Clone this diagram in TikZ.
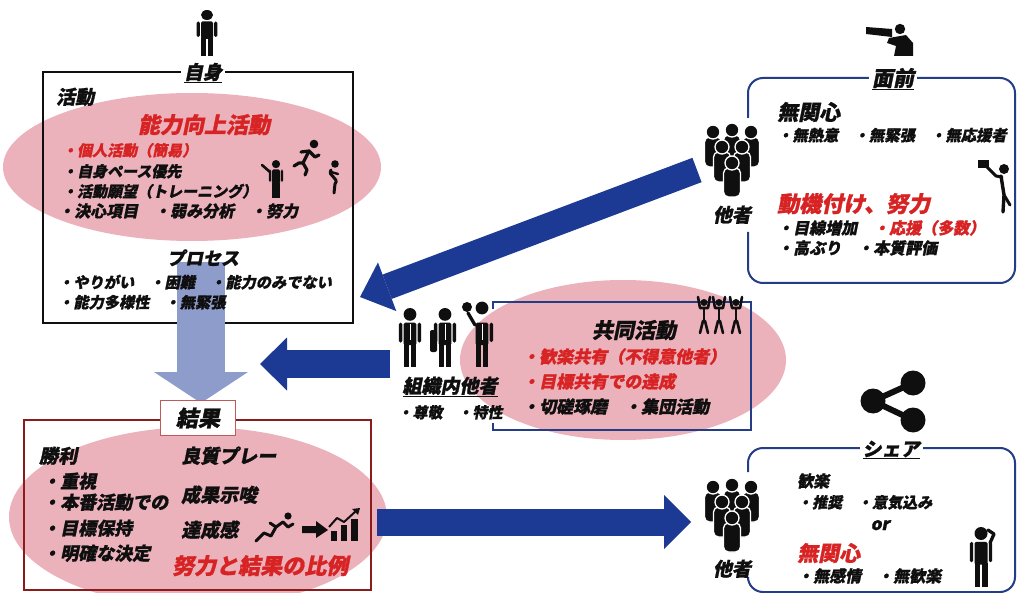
\documentclass[tikz,border=0pt]{standalone}
\usepackage{fontspec}
\newfontfamily\jp[FakeSlant=0.2, BoldFeatures={FakeBold=1.2}]{Noto Sans CJK JP}
\usetikzlibrary{arrows.meta}
\newcommand{\fsz}[1]{\fontsize{#1}{#1}\selectfont}
\definecolor{pinkfill}{RGB}{236,178,188}
\definecolor{redtxt}{RGB}{215,35,35}
\definecolor{navy}{RGB}{28,58,148}
\definecolor{boxnavy}{RGB}{35,62,135}
\definecolor{lightarrow}{RGB}{142,156,204}
\definecolor{boxred}{RGB}{140,28,28}
\definecolor{titlered}{RGB}{190,90,90}
\definecolor{ink}{RGB}{15,15,15}
\tikzset{
  txt/.style={anchor=base west, inner sep=0pt, text=ink, font=\jp\bfseries\fsz{#1}},
  txt/.default=15,
  ctxt/.style={anchor=base, inner sep=0pt, text=ink, font=\jp\bfseries\fsz{#1}},
  ctxt/.default=15,
  red/.style={text=redtxt},
  boxtitle/.style={fill=white, inner sep=3pt, text=ink, font=\jp\bfseries\fsz{#1}},
  boxtitle/.default=18,
  blockarrow/.style={draw=navy, line width=#1},
  stick/.style={draw=ink, line width=3.2pt, line cap=round, line join=round},
  % standing figure, origin at the top of the head
  person/.pic={
    \fill[ink] (0,5) circle (5);
    \fill[ink, rounded corners=1.5] (-5,11.5) rectangle (5,29);
    \fill[ink, rounded corners=1.5] (-8.6,11.5) rectangle (-6,27);
    \fill[ink, rounded corners=1.5] (6,11.5) rectangle (8.6,27);
    \fill[ink] (-5,28) rectangle (-0.6,46);
    \fill[ink] (0.6,28) rectangle (5,46);
  },
  % group of seven figures, origin at the top centre
  crowd/.pic={
    \foreach \hx/\hy/\bb in {-19/7/42, 19/7/42, 0/5/40, -10/22/57, 10/22/57, 0/38/72}{
      \fill[ink, draw=white, line width=1.3pt, rounded corners=5]
        (\hx-8.5,\hy+5) rectangle (\hx+8.5,\bb);
      \fill[ink, draw=white, line width=1.3pt] (\hx,\hy) circle (7);
    }
  },
  % small figure with both arms raised
  cheer/.pic={
    \fill[ink] (0,3.5) circle (3.5);
    \draw[stick, line width=2.6pt] (-6,-2) -- (-4,9) -- (4,9) -- (6,-2);
    \draw[stick, line width=2.6pt] (0,9) -- (0,22);
    \draw[stick, line width=2.6pt] (-4,34) -- (-1,22) -- (1,22) -- (4,34);
  }
}
\begin{document}
\begin{tikzpicture}[x=1pt, y=-1pt]
\path[use as bounding box, fill=white] (0,0) rectangle (1019,593);

% ---------- pink highlight areas ----------
\fill[pinkfill] (192,167) ellipse [x radius=189, y radius=74];
\fill[pinkfill] (623,360) ellipse [x radius=163, y radius=80];
\fill[pinkfill] (198,517) ellipse [x radius=189, y radius=90];

% ---------- frames ----------
\draw[ink, line width=2.2pt] (43,72) rectangle (353,323);
\draw[boxred, line width=2pt] (24,420) rectangle (371,590);
\draw[boxnavy, line width=1.6pt] (493,309) -- (493,302) -- (751,302) -- (751,430) -- (493,430) -- (493,423);
\draw[boxnavy, line width=2pt, rounded corners=15]
  (748,118) -- (748,78) -- (1015,78) -- (1015,283) -- (748,283) -- (748,232);
\draw[boxnavy, line width=2pt, rounded corners=15]
  (748,472) -- (748,448) -- (1015,448) -- (1015,592) -- (748,592) -- (748,580);

% ---------- arrows ----------
\coordinate (downS) at (201,262);
\coordinate (downE) at (201,403);
\draw[draw=lightarrow, line width=48pt, -{Triangle[length=31pt, width=94pt, line width=0pt]}] (downS) -- (downE);
\coordinate (diagS) at (697,170);
\coordinate (diagE) at (360,297);
\draw[blockarrow=26pt, -{Triangle[length=29pt, width=52pt, line width=0pt]}] (diagS) -- (diagE);
\coordinate (midS) at (390,364);
\coordinate (midE) at (260,364);
\draw[blockarrow=28pt, -{Triangle[length=27pt, width=53pt, line width=0pt]}] (midS) -- (midE);
\coordinate (rightS) at (377,522);
\coordinate (rightE) at (691,522);
\draw[blockarrow=27pt, -{Triangle[length=27pt, width=54pt, line width=0pt]}] (rightS) -- (rightE);

% ---------- box titles ----------
\node[boxtitle=19] (tSelf) at (203,73) {\underline{自身}};
\node[boxtitle=21] (tFront) at (893,79) {\underline{面前}};
\node[boxtitle=19] (tShare) at (891,450) {\underline{シェア}};
\node[draw=titlered, line width=1pt, fill=white, minimum width=75pt, minimum height=35pt,
      inner sep=0pt, text=ink, font=\jp\bfseries\fsz{22}] (tResult) at (198,418) {結果};

% ---------- self box ----------
\node[txt=19] (actHead) at (56,104) {活動};
\node[ctxt=22, red] (actTitle) at (204,133) {能力向上活動};
\node[txt=15, red] (a1) at (62,156) {・個人活動（簡易）};
\node[txt=15] (a2) at (62,177) {・自身ペース優先};
\node[txt=15] (a3) at (62,197) {・活動願望（トレーニング）};
\node[txt=16] (a4) at (58,217) {・決心項目　・弱み分析　・努力};
\node[ctxt=18] (procHead) at (203,265) {プロセス};
\node[txt=15.2] (p1) at (58,288) {・やりがい　・困難　・能力のみでない};
\node[txt=15.2] (p2) at (58,308) {・能力多様性　・無緊張};

% figure on top of the self box
\pic[xscale=1.2] at (207,10) {person};
% coach pointing
\pic[scale=0.82] at (276,160) {person};
\draw[stick, line width=2.6pt] (270,172) -- (262,165);
% runner
\fill[ink] (314,144) circle (4.3);
\draw[stick] (309,151) -- (303,163);
\draw[stick] (301,152) -- (309,151) -- (315,157) -- (319,155);
\draw[stick] (294,166) -- (299,163) -- (303,163) -- (307,170) -- (305,175);
% stretching figure
\fill[ink] (335,164) circle (3.8);
\draw[stick, line width=3pt] (331,170) .. controls (327,176) and (340,178) .. (335,184) -- (334,193);
\draw[stick, line width=2.4pt] (331,172) -- (338,174);

% ---------- others in the front ----------
% watcher with a telescope
\fill[ink] (866,27) -- (892,29) -- (892,37) -- (866,34) -- cycle;
\fill[ink] (900,29) circle (5.2);
\fill[ink] (889,38) -- (906,35) -- (913,43) -- (913,56) -- (894,56) -- (896,46) -- (887,43) -- cycle;
\pic at (732,125) {crowd};
\node[ctxt=19] (oFront) at (732,222) {他者};
\node[txt=21] (f1) at (777,120) {無関心};
\node[txt=15.3] (f2) at (777,141) {・無熱意　・無緊張　・無応援者};
\node[txt=22, red] (f3) at (777,212) {動機付け、努力};
\node[txt=16] (f4) at (777,234) {・目線増加　{\color{redtxt}・応援（多数）}};
\node[txt=16] (f5) at (777,254) {・高ぶり　・本質評価};
% photographer
\fill[ink] (1004,169) circle (5);
\fill[ink] (978,160) rectangle (989,168);
\draw[stick, line width=3pt] (986,166) -- (996,176) -- (1002,177);
\draw[stick, line width=3.4pt] (1001,176) -- (1004,195) -- (1003,212);
\draw[stick, line width=3pt] (1004,195) -- (1010,205);

% ---------- colleagues ----------
\pic[scale=1.28] at (410,308) {person};
\draw[white, line width=1pt] (410,324) -- (410,340);
\pic[scale=1.28] at (445,308) {person};
\draw[white, line width=1pt] (445,324) -- (445,340);
\fill[ink, rounded corners=2] (430,330) rectangle (437,352);
\fill[ink] (482,308) circle (6.4);
\fill[ink, rounded corners=1.5] (475.6,322.7) rectangle (488.4,345);
\fill[ink, rounded corners=1.5] (489.7,322.7) rectangle (493,342);
\fill[ink] (475.6,344) rectangle (481.2,367);
\fill[ink] (482.8,344) rectangle (488.4,367);
\draw[white, line width=1pt] (482,324) -- (482,340);
\draw[stick, line width=3.3pt] (475,325) -- (468,313);
\fill[ink] (467,307) circle (5);
\node[ctxt=19] (orgHead) at (450,393) {\underline{組織内他者}};
\node[ctxt=15] (orgSub) at (450,418) {・尊敬　・特性};

\node[ctxt=21] (coHead) at (634,338) {共同活動};
\pic at (704,299) {cheer};
\pic at (719,299) {cheer};
\pic at (736,299) {cheer};
\node[txt=17, red] (c1) at (522,363) {・歓楽共有（不得意他者）};
\node[txt=17, red] (c2) at (522,388) {・目標共有での達成};
\node[txt=17] (c3) at (522,413) {・切磋琢磨　・集団活動};

% ---------- result box ----------
\node[txt=19] (winHead) at (39,463) {勝利};
\node[txt=18] (w1) at (42,488) {・重視};
\node[txt=18] (w2) at (42,509) {・本番活動での};
\node[txt=18] (w3) at (42,535) {・目標保持};
\node[txt=18] (w4) at (42,560) {・明確な決定};
\node[txt=19] (r1) at (181,463) {良質プレー};
\node[txt=19] (r2) at (181,502) {成果示唆};
\node[txt=19] (r3) at (181,537) {達成感};
\node[txt=22, red] (r4) at (172,574) {努力と結果の比例};
% sprinter
\fill[ink] (288,516) circle (3.6);
\draw[stick, line width=3pt] (256,541) -- (264,533) -- (271,536) -- (276,527) -- (283,522);
\draw[stick, line width=3pt] (270,523) -- (276,527);
\draw[stick, line width=3pt] (283,522) -- (288,527) -- (293,524);
% small arrow
\fill[ink] (302,526) -- (316,526) -- (316,521) -- (328,530) -- (316,538) -- (316,533) -- (302,533) -- cycle;
% bar chart
\fill[ink] (331,531) rectangle (337,541);
\fill[ink] (341,525) rectangle (347,541);
\fill[ink] (351,519) rectangle (358,541);
\draw[ink, line width=2pt, line join=round] (329,527) -- (337,518) -- (344,522) -- (356,511);
\fill[ink] (360,508) -- (352,509) -- (358,515) -- cycle;

% ---------- share box ----------
\draw[ink, line width=6pt] (913,383) -- (873,401) -- (913,420);
\fill[ink] (913,383) circle (12.5);
\fill[ink] (873,401) circle (12.5);
\fill[ink] (913,420) circle (12.5);
\pic at (732,480) {crowd};
\node[ctxt=19] (oShare) at (732,576) {他者};
\node[txt=16] (s1) at (797,487) {歓楽};
\node[txt=15] (s2) at (797,508) {・推奨　・意気込み};
\node[ctxt=17] (s3) at (880,530) {or};
\node[txt=21, red] (s4) at (797,561) {無関心};
\node[txt=16] (s5) at (797,582) {・無感情　・無歓楽};
% thoughtful figure
\pic[scale=1.3] at (981,527) {person};
\draw[stick, line width=3.3pt] (990,543) -- (994,534) -- (988,530);
\end{tikzpicture}
\end{document}
